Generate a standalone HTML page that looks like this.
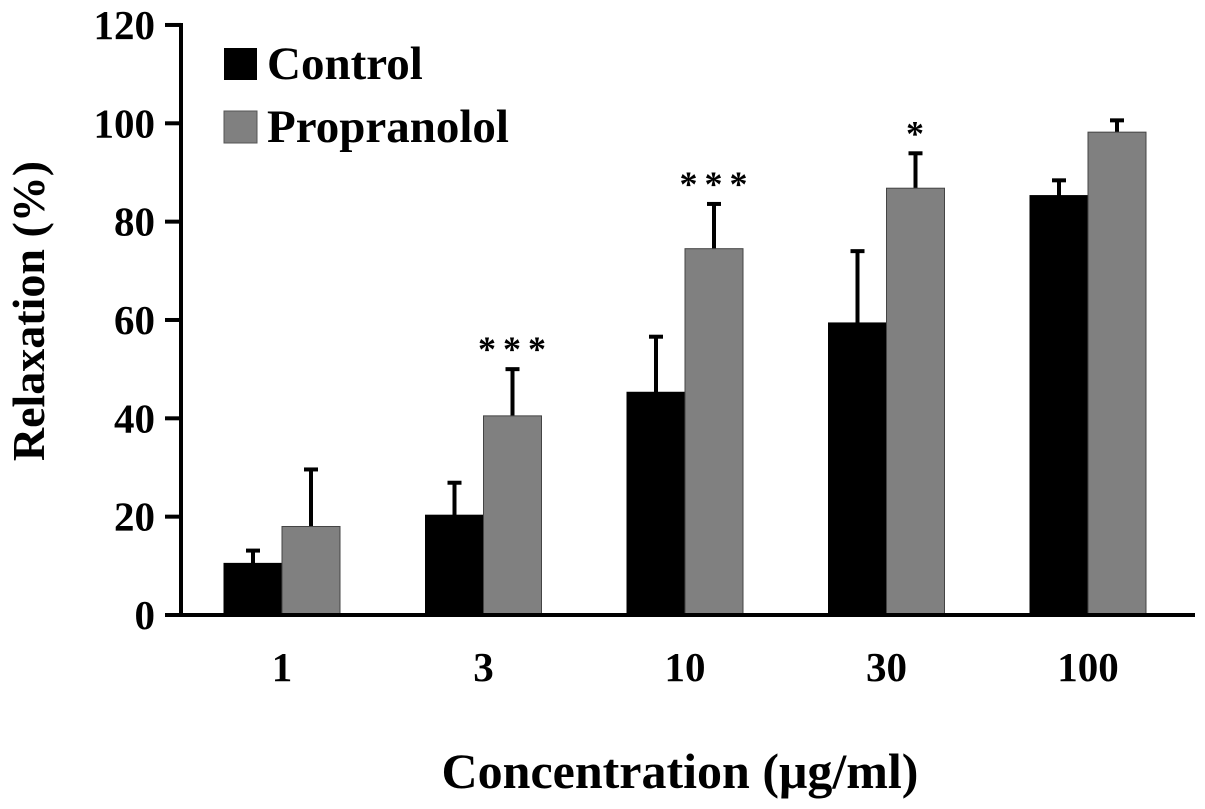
<!DOCTYPE html>
<html><head><meta charset="utf-8"><style>body{margin:0;background:#fff}svg{display:block}text{font-family:"Liberation Serif",serif;font-weight:bold}</style></head>
<body>
<svg id="chart" width="1205" height="809" viewBox="0 0 1205 809">
<g id="bars"></g>
<g stroke="#000" stroke-width="4">
<line x1="181" y1="23" x2="181" y2="617"/>
<line x1="179" y1="615" x2="1195" y2="615"/>
</g>
<g id="yticks"></g>
<g id="xticks"></g>
<text x="44" y="311" font-size="46" text-anchor="middle" transform="rotate(-90 44 311)">Relaxation (%)</text>
<text x="680" y="788" font-size="50" text-anchor="middle">Concentration (μg/ml)</text>
<g>
<rect x="224" y="48" width="33" height="32" fill="#000"/>
<text x="267" y="79" font-size="47">Control</text>
<rect x="224" y="111" width="33" height="32" fill="#808080" stroke="#555" stroke-width="1"/>
<text x="267" y="142" font-size="47">Propranolol</text>
</g>
</svg>
<script>
const categories=["1","3","10","30","100"];
const controlVals=[10.5,20.3,45.3,59.4,85.3];
const controlErr=[2.6,6.6,11.3,14.6,3.1];
const propVals=[18,40.5,74.5,86.8,98.2];
const propErr=[11.6,9.5,9.1,7.1,2.4];
const sigLabels=["","***","***","*",""];
const yTicks=[0,20,40,60,80,100,120];
const ns="http://www.w3.org/2000/svg";
const y0=615,pxPer=4.917,x0=181,groupW=201.5,firstCenter=282,barW=58;
function yS(v){return y0-v*pxPer;}
function xC(i){return firstCenter+i*groupW;}
function mk(tag,attrs,parent){const e=document.createElementNS(ns,tag);for(const k in attrs)e.setAttribute(k,attrs[k]);parent.appendChild(e);return e;}
const gb=document.getElementById('bars'),gy=document.getElementById('yticks'),gx=document.getElementById('xticks');
yTicks.forEach(t=>{
 const l=mk('line',{x1:165,x2:x0,y1:yS(t),y2:yS(t),stroke:'#000','stroke-width':4},gy);
 
 
 const tx=mk('text',{x:155,y:yS(t)+14,'font-size':41,'text-anchor':'end'},gy);
 tx.textContent=t;
 
 
});
categories.forEach((c,i)=>{
 const cx=xC(i);
 [[controlVals,controlErr,'#000','control',cx-barW],[propVals,propErr,'#808080','propranolol',cx]].forEach(([vals,errs,fill,nm,bx])=>{
  const v=vals[i],top=yS(v+errs[i]),mid=bx+barW/2;
  const el=mk('line',{x1:mid,x2:mid,y1:top,y2:yS(v),stroke:'#000','stroke-width':4},gb);
  
  
  const cap=mk('line',{x1:mid-7,x2:mid+7,y1:top,y2:top,stroke:'#000','stroke-width':4},gb);
  
  
  const r=mk('rect',{x:bx,y:yS(v),width:barW,height:y0-yS(v),fill:fill,stroke:nm==='control'?'#000':'#444','stroke-width':1},gb);
  
  
 });
 if(sigLabels[i]){
  const s=mk('text',{x:cx+barW/2+3,y:yS(propVals[i]+propErr[i])-8,'font-size':36,'font-weight':'normal','text-anchor':'middle','letter-spacing':'7'},gb);
  s.textContent=sigLabels[i];
  
  
 }
 const xt=mk('text',{x:cx,y:681,'font-size':41,'text-anchor':'middle'},gx);
 xt.textContent=c;
 
 
});
</script>
</body></html>
